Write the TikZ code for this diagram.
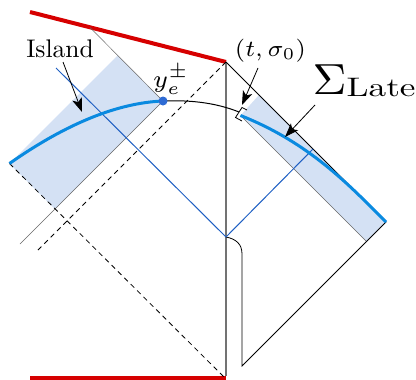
\documentclass[tikz,border=0pt]{standalone}
\usepackage{graphicx}
\usetikzlibrary{arrows.meta}
\definecolor{redl}{RGB}{214,0,0}
\definecolor{thickblue}{RGB}{10,138,224}
\definecolor{thinblue}{RGB}{30,95,195}
\definecolor{dotblue}{RGB}{46,107,212}
\definecolor{bandfill}{RGB}{212,225,244}
\tikzset{
  redbar/.style={draw=redl,line width=4pt},
  thinline/.style={draw=black,line width=0.8pt},
  greyline/.style={draw=black!60,line width=0.5pt},
  vline/.style={draw=black!55,line width=1.2pt},
  dashline/.style={draw=black,line width=0.8pt,dash pattern=on 5pt off 4pt},
  bluethin/.style={draw=thinblue,line width=1pt},
  bluethick/.style={draw=thickblue,line width=3pt},
  band/.style={fill=bandfill},
  pointer/.style={draw=black,line width=0.8pt,-{Stealth[length=14pt,width=10pt,inset=3.5pt]}},
  lbl/.style={inner sep=0pt}
}
\begin{document}
\begin{tikzpicture}[x=1pt,y=-1pt]
\useasboundingbox (0,0) rectangle (416,380);
% key points
\coordinate (redTL) at (30,12);
\coordinate (top) at (226,62);
\coordinate (bot) at (226,376);
\coordinate (redBL) at (30,378);
\coordinate (redBR) at (226,378);
\coordinate (P) at (9.5,163.5);
\coordinate (S) at (117.5,55.5);
\coordinate (R) at (163,101);
\coordinate (Q) at (55,209);
\coordinate (A) at (259,95);
\coordinate (B) at (386,222);
\coordinate (C) at (366.5,241.5);
\coordinate (D) at (240.5,115.5);
\coordinate (E) at (239,112);
\coordinate (grayTop) at (90,27.5);
\coordinate (grayEnd) at (20,244);
\coordinate (dashEnd1) at (224,377);
\coordinate (dashEnd2) at (38,250);
\coordinate (blueL) at (56,68);
\coordinate (mid) at (226,237);
\coordinate (blueR) at (313,149);
\coordinate (bk1) at (242,366);
\coordinate (bk2) at (242,254);
% bands
\path[band] (P) -- (S) -- (R) -- (Q) -- cycle;
\path[band] (A) -- (B) -- (C) -- (D) -- cycle;
% red bars
\draw[redbar] (redTL) -- (top);
\draw[redbar] (redBL) -- (redBR);
% vertical line
\draw[vline] (top) -- (bot);
% grey thin lines
\draw[greyline] (grayTop) -- (R) -- (grayEnd);
\draw[greyline] (D) -- (C);
% dashed
\draw[dashline] (P) -- (dashEnd1);
\draw[dashline] (top) -- (dashEnd2);
% boundary black lines
\draw[thinline] (top) -- (B) -- (bk1) -- (bk2) .. controls (242,244) and (236,239) .. (mid);
% thin blue
\draw[bluethin] (blueL) -- (mid) -- (blueR);
% curve
\draw[bluethick] (P) .. controls (60,128) and (113,103) .. (R);
\draw[thinline,line width=1pt] (R) .. controls (188,100) and (214,102) .. (E);
\draw[bluethick] (D) .. controls (310,143) and (350,186) .. (B);
% bracket
\draw[black,line width=0.8pt] (247,110) -- (242,107.5) -- (235.5,117.5) -- (242,121);
% dot
\fill[dotblue] (R) circle (4.5pt);
% labels
\node[lbl,anchor=base] (island) at (60,57) {\scalebox{2.55}{\fontsize{10}{12}\selectfont Island}};
\node[lbl,anchor=base west] (ye) at (153,87) {\scalebox{3.5}{\fontsize{7}{8}\selectfont$y_e^{\pm}$}};
\node[lbl,anchor=base] (tsig) at (270.5,56.5) {\scalebox{3.3}{\fontsize{7}{8}\selectfont$(t,\sigma_0)$}};
\node[lbl,anchor=base west] (sig) at (312.5,94) {\scalebox{4.7}[4.35]{\fontsize{10}{12}\selectfont$\Sigma$}};
\node[lbl,anchor=base west] (late) at (346.5,96) {\scalebox{3.52}[2.68]{\fontsize{10}{12}\selectfont Late}};
% pointers
\coordinate (a1s) at (63,62);
\coordinate (a1e) at (82,112);
\coordinate (a2s) at (258,68);
\coordinate (a2e) at (242,105);
\coordinate (a3s) at (315,105);
\coordinate (a3e) at (285,137);
\draw[pointer] (a1s) -- (a1e);
\draw[pointer] (a2s) -- (a2e);
\draw[pointer] (a3s) -- (a3e);
\end{tikzpicture}
\end{document}
